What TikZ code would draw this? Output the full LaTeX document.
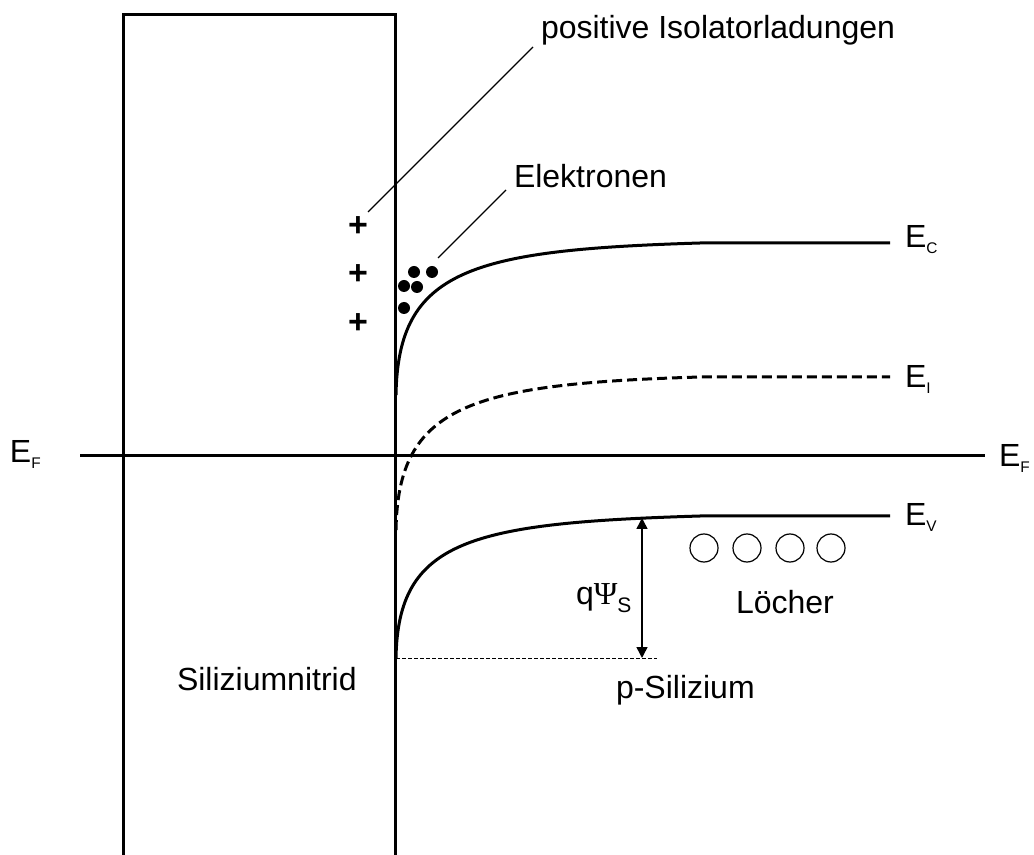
\documentclass[tikz,border=0pt]{standalone}
\usepackage{fontspec}
\setmainfont{Liberation Sans}
\newfontfamily\greekfont{Liberation Serif}
\usetikzlibrary{arrows.meta}
\newcommand\Elab[1]{E\raisebox{-3pt}{\fontsize{7.7}{9}\selectfont #1}}
\begin{document}
\begin{tikzpicture}[x=0.5pt,y=-0.5pt,
  every node/.style={font=\fontsize{16}{19}\selectfont, inner sep=0pt, outer sep=0pt},
  lbl/.style={anchor=base west},
  heavy/.style={line width=1.5pt},
  leader/.style={line width=0.6pt},
  plussign/.style={font=\fontsize{17}{20}\selectfont\bfseries},
  electron/.style={circle, fill=black, minimum size=12*0.5pt},
  hole/.style={circle, draw=black, line width=0.6pt, minimum size=28*0.5pt},
  dim/.style={line width=0.75pt, {Triangle[length=5.5pt,width=5.5pt]}-{Triangle[length=5.5pt,width=5.5pt]}},
  edge/.style={line width=0.5pt, dash pattern=on 2pt off 1pt}
]
\useasboundingbox (0,0) rectangle (1034,855);

% insulator box and interface
\draw[heavy] (123,855) -- (123,15) -- (395,15) -- (395,855);

% Fermi level
\coordinate (efL) at (80,456);
\coordinate (efR) at (985,456);
\draw[heavy] (efL) -- (efR);
\node[lbl] (efl) at (10,463) {\Elab{F}};
\node[lbl] (efr) at (999,467) {\Elab{F}};

% conduction band
\coordinate (ecS) at (396,395);
\coordinate (ecE) at (890,243);
\draw[heavy] (ecS) .. controls (398,270) and (470,250) .. (700,243) -- (ecE);
\node[lbl] (ec) at (905,248) {\Elab{C}};

% intrinsic level
\coordinate (eiS) at (396,530);
\coordinate (eiE) at (890,377);
\draw[heavy, dash pattern=on 5pt off 2.5pt] (eiS) .. controls (398,405) and (470,384) .. (700,377) -- (eiE);
\node[lbl] (ei) at (905,388) {\Elab{I}};

% valence band
\coordinate (evS) at (396,658);
\coordinate (evE) at (890,516);
\draw[heavy] (evS) .. controls (398,540) and (470,523) .. (700,516) -- (evE);
\node[lbl] (ev) at (905,526) {\Elab{V}};

% surface potential
\coordinate (dotEnd) at (657,658);
\draw[edge] (evS) -- (dotEnd);
\coordinate (arTop) at (642,518);
\coordinate (arBot) at (642,658);
\draw[dim] (arBot) -- (arTop);
\node[lbl] (psi) at (576,604) {q{\greekfont Ψ}\raisebox{-4pt}{\fontsize{10.5}{12}\selectfont S}};

% holes
\node[hole] (h1) at (704,548) {};
\node[hole] (h2) at (747,548) {};
\node[hole] (h3) at (790,548) {};
\node[hole] (h4) at (831,548) {};
\node[lbl] (loecher) at (736,613) {Löcher};

% charges
\node[plussign] (p1) at (358,227) {+};
\node[plussign] (p2) at (358,275) {+};
\node[plussign] (p3) at (358,324) {+};
\node[lbl] (pos) at (541,39) {positive Isolatorladungen};
\coordinate (l1a) at (368,212);
\coordinate (l1b) at (533,47);
\draw[leader] (l1a) -- (l1b);

% electrons
\node[electron] (e1) at (414,272) {};
\node[electron] (e2) at (432,272) {};
\node[electron] (e3) at (404,286) {};
\node[electron] (e4) at (417,287) {};
\node[electron] (e5) at (404,308) {};
\node[lbl] (elek) at (514,188) {Elektronen};
\coordinate (l2a) at (438,258);
\coordinate (l2b) at (506,190);
\draw[leader] (l2a) -- (l2b);

% region labels
\node[lbl] (sin) at (177,690) {Siliziumnitrid};
\node[lbl] (psi2) at (616,698) {p-Silizium};
\end{tikzpicture}
\end{document}
